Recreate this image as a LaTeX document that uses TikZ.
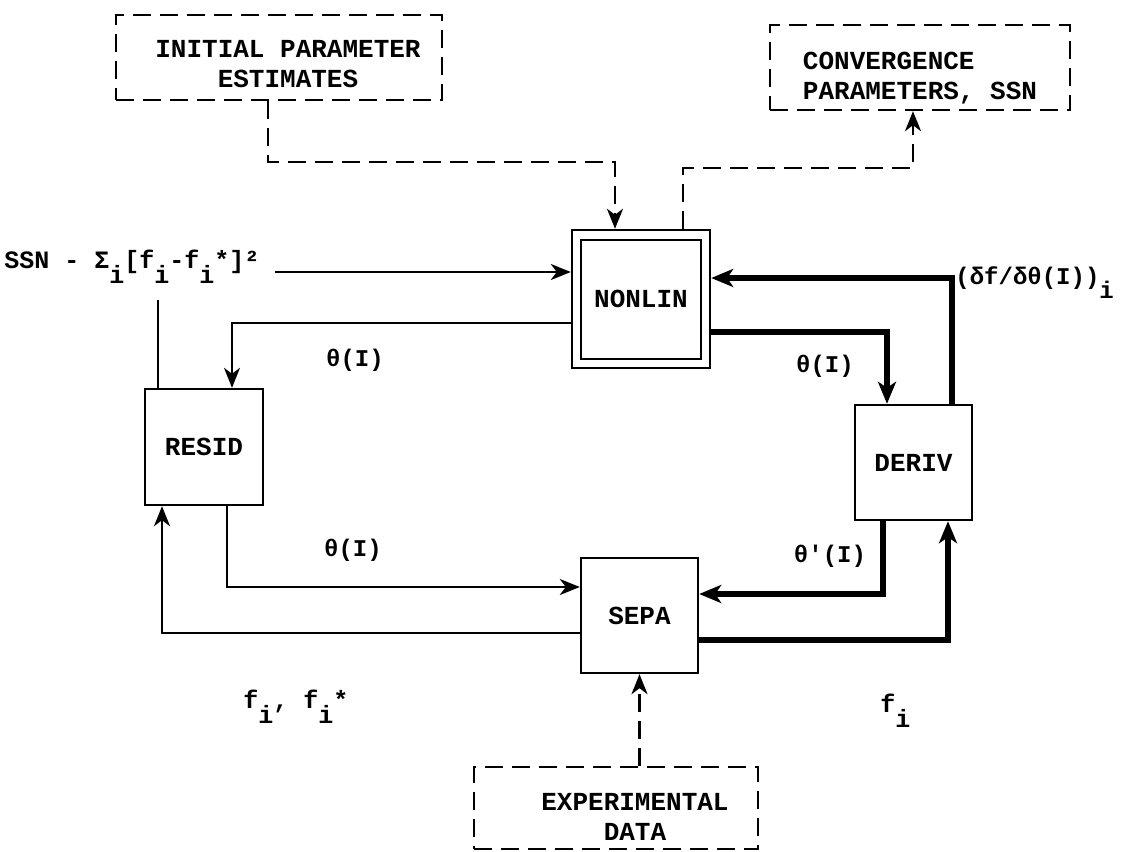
\documentclass[tikz,border=0pt]{standalone}
\usepackage{fontspec}
\setmonofont{Liberation Mono}
\usetikzlibrary{arrows.meta}
\newcommand\lo[1]{\raisebox{-0.6em}{#1}}
\begin{document}
\begin{tikzpicture}[x=0.5pt,y=-0.5pt,
  font=\ttfamily\bfseries\fontsize{13}{15}\selectfont,
  thinln/.style={line width=1.2pt},
  thickln/.style={line width=2.8pt},
  dsh/.style={line width=1.2pt, dash pattern=on 9pt off 4.5pt},
  tipthin/.style={-{Stealth[length=10pt,width=8pt,inset=3pt]}},
  tipthick/.style={-{Stealth[length=11pt,width=9pt,inset=3pt]}},
  block/.style={draw, line width=1.2pt, inner sep=0pt},
  dbox/.style={draw, dsh, align=center, inner sep=0pt},
  lbl/.style={font=\ttfamily\bfseries\fontsize{12}{14}\selectfont, inner sep=0pt}]
\fill[white] (0,0) rectangle (1126,852);
\useasboundingbox (0,0) rectangle (1126,852);

% boxes
\node[dbox, minimum width=163pt, minimum height=42.5pt] (init) at (279,57.5) {\rule{0pt}{15.5pt}\hspace*{9pt}INITIAL PARAMETER\\\hspace*{9pt}ESTIMATES};
\node[dbox, align=left, minimum width=150pt, minimum height=42.5pt] (conv) at (920,67.5) {\rule{0pt}{19.5pt}CONVERGENCE\\PARAMETERS, SSN};
\node[block, minimum width=69pt, minimum height=69pt] (nonlin) at (641,299) {NONLIN};
\draw[line width=1.2pt] ([shift={(10,11)}]nonlin.north west) rectangle ([shift={(-10,-10)}]nonlin.south east);
\node[block, minimum width=59pt, minimum height=58pt] (resid) at (204,447) {RESID};
\node[block, minimum width=58.5pt, minimum height=57.5pt] (deriv) at (913.5,462.5) {DERIV};
\node[block, minimum width=58.5pt, minimum height=57.5pt] (sepa) at (639.5,615.5) {SEPA};
\node[dbox, minimum width=142pt, minimum height=41pt] (expt) at (616,808) {\rule{0pt}{17.5pt}\hspace*{19pt}EXPERIMENTAL\\\hspace*{19pt}DATA};

% labels
\node[lbl, font=\ttfamily\bfseries\fontsize{12.5}{14}\selectfont, anchor=base west] (ssn) at (4,268) {SSN - Σ\lo{i}[f\lo{i}-f\lo{i}*]²};
\node[lbl] (t1) at (355,360) {θ(I)};
\node[lbl] (t2) at (353,550) {θ(I)};
\node[lbl] (t3) at (825,366) {θ(I)};
\node[lbl] (t4) at (830,556) {θ'(I)};
\node[lbl, anchor=base west] (dfd) at (955,284) {(δf/δθ(I))\lo{i}};
\node[lbl, font=\ttfamily\bfseries\fontsize{12.5}{14}\selectfont, anchor=base west] (f1) at (243,708) {f\lo{i}, f\lo{i}*};
\node[lbl, font=\ttfamily\bfseries\fontsize{12.5}{14}\selectfont, anchor=base west] (f2) at (880,712) {f\lo{i}};

% dashed connectors
\coordinate (a1) at (268,162);
\draw[dsh, tipthin] (init.south -| a1) -- (a1) -| ([xshift=-13pt]nonlin.north);
\coordinate (c1) at (683,168);
\coordinate (c2) at (913,168);
\draw[dsh, tipthin] (nonlin.north -| c1) -- (c1) -- (c2) -- (conv.south -| c2);
\draw[dsh, tipthin] (expt.north -| sepa.south) -- (sepa.south);

% thin connectors
\coordinate (s1) at (275,272);
\draw[thinln, tipthin] (s1) -- (s1 -| nonlin.west);
\coordinate (s2) at (158,300);
\draw[thinln] (resid.north -| s2) -- (s2);
\coordinate (r1) at (232,323);
\draw[thinln, tipthin] (nonlin.west |- r1) -- (r1) -- (resid.north -| r1);
\coordinate (r2) at (227,587);
\draw[thinln, tipthin] (resid.south -| r2) -- (r2) -- (sepa.west |- r2);
\coordinate (r3) at (162,633);
\draw[thinln, tipthin] (sepa.west |- r3) -- (r3) -- (resid.south -| r3);

% thick connectors
\coordinate (d1) at (887,332);
\draw[thickln, tipthick] (nonlin.east |- d1) -- (d1) -- (deriv.north -| d1);
\coordinate (d2) at (952,278);
\draw[thickln, tipthick] (deriv.north -| d2) -- (d2) -- (nonlin.east |- d2);
\coordinate (d3) at (883,594);
\draw[thickln, tipthick] (deriv.south -| d3) -- (d3) -- (sepa.east |- d3);
\coordinate (d4) at (948,640);
\draw[thickln, tipthick] (sepa.east |- d4) -- (d4) -- (deriv.south -| d4);
\end{tikzpicture}
\end{document}
